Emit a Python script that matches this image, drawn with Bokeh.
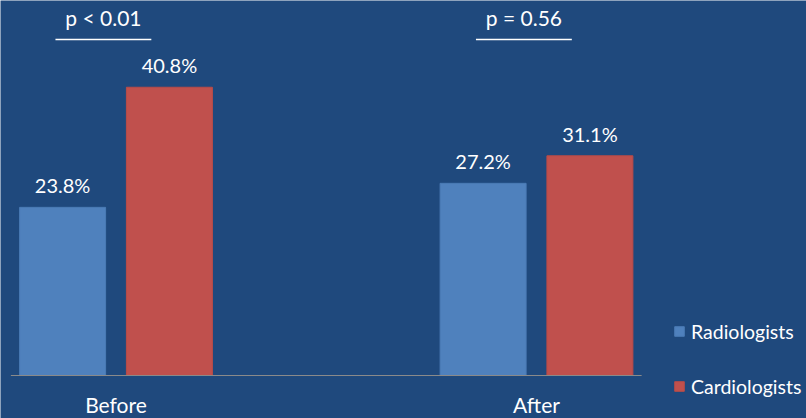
import numpy as np
from bokeh.plotting import figure
from bokeh.models import Range1d, ColumnDataSource, Legend, LegendItem
from bokeh.core.properties import value
from bokeh.embed import file_html
from bokeh.resources import INLINE

# ---- data ----
categories = ["Before", "After"]
series = ["Radiologists", "Cardiologists"]
radiologists = [23.8, 27.2]
cardiologists = [40.8, 31.1]
p_labels = ["p < 0.01", "p = 0.56"]

# ---- style ----
BG = "#1F497D"
COLORS = ["#4F81BD", "#C0504D"]
EDGES = ["#4A7BB5", "#B84B48"]
TXT = "#FFFFFF"
FONT = "Lato"

idx = np.arange(len(categories))
bar_w = 0.2045
off = 0.127

p = figure(width=806, height=418, output_backend="svg", toolbar_location=None,
           x_range=Range1d(-0.2747, 1.6421), y_range=Range1d(-6.086, 53.08),
           min_border=0, min_border_left=0, min_border_right=0,
           min_border_top=0, min_border_bottom=0)
p.background_fill_color = BG
p.border_fill_color = BG
p.outline_line_color = None
p.xaxis.visible = False
p.yaxis.visible = False
p.xgrid.visible = False
p.ygrid.visible = False

renderers = []
for k, (vals, o) in enumerate(zip([radiologists, cardiologists], [-off, off])):
    src = ColumnDataSource(dict(x=idx + o, top=vals,
                                lab=["%.1f%%" % v for v in vals]))
    r = p.vbar(x="x", top="top", bottom=0, width=bar_w, source=src,
               fill_color=COLORS[k], line_color=EDGES[k], line_width=1)
    renderers.append(r)
    p.text(x="x", y="top", text="lab", source=src, text_align="center",
           text_baseline="alphabetic", y_offset=-22, text_color=TXT,
           text_font=value(FONT), text_font_size="20px")

# category axis line and labels
p.segment(x0=[-0.25], y0=[0], x1=[1.25], y1=[0], line_color="#8A8A8A", line_width=1.2)
csrc = ColumnDataSource(dict(x=idx, y=[0] * len(categories), t=categories))
p.text(x="x", y="y", text="t", source=csrc, text_align="center",
       text_baseline="alphabetic", y_offset=29, text_color=TXT,
       text_font=value(FONT), text_font_size="21px")

# p-value annotations
pdx = -0.03
psrc = ColumnDataSource(dict(x=idx + pdx, y=[50.67] * len(p_labels), t=p_labels,
                             x0=idx + pdx - 0.114, x1=idx + pdx + 0.114,
                             yl=[47.56] * len(p_labels)))
p.text(x="x", y="y", text="t", source=psrc, text_align="center",
       text_baseline="alphabetic", text_color=TXT,
       text_font=value(FONT), text_font_size="21px")
p.segment(x0="x0", y0="yl", x1="x1", y1="yl", source=psrc,
          line_color="#FFFFFF", line_width=1.3)

legend = Legend(items=[LegendItem(label=s, renderers=[r]) for s, r in zip(series, renderers)],
                location=(673, 20), orientation="vertical",
                glyph_width=12, glyph_height=12, label_height=24, spacing=31,
                label_standoff=6, padding=0, margin=0,
                label_text_font=FONT, label_text_font_size="19.5px",
                label_text_color=TXT, background_fill_alpha=0,
                border_line_alpha=0)
p.add_layout(legend)

html = file_html(p, INLINE)
html = html.replace("<body", '<body style="background-color:%s"' % BG, 1)
open("out.html", "w").write(html)
